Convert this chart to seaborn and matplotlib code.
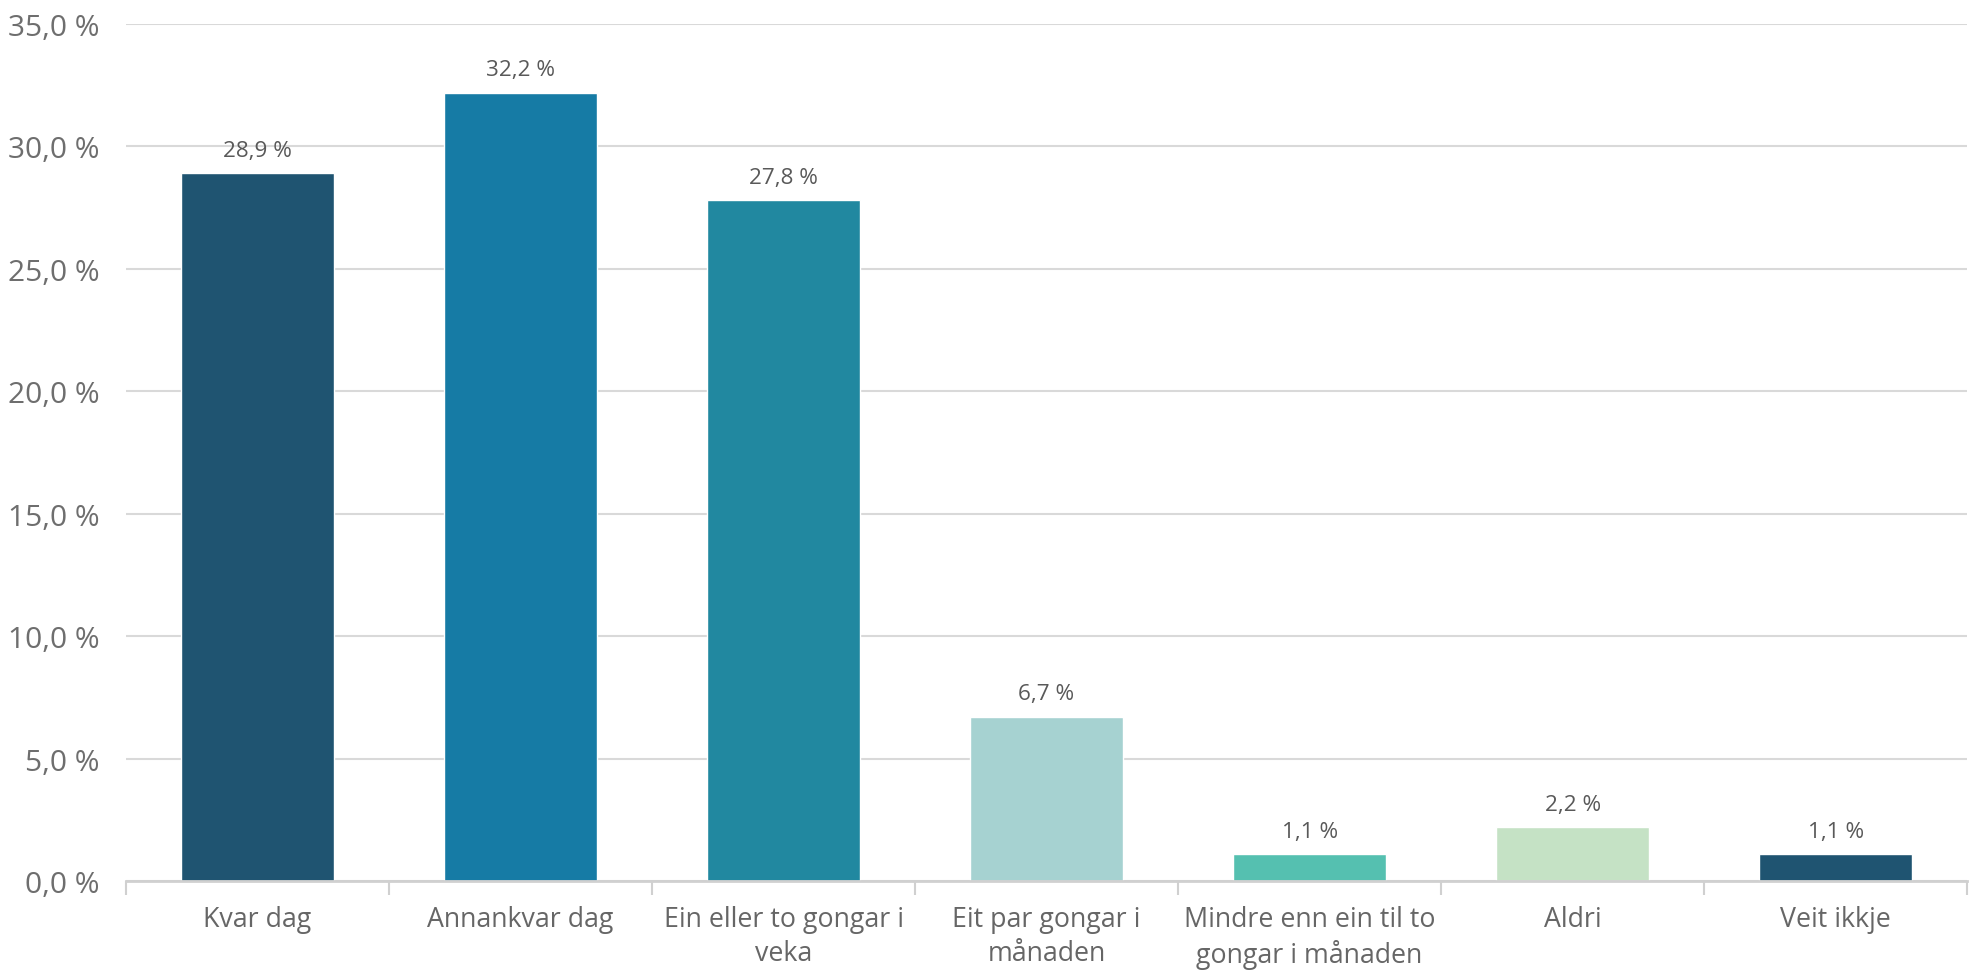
import matplotlib
matplotlib.use("Agg")
import matplotlib.pyplot as plt
import seaborn as sns
import pandas as pd
from matplotlib.ticker import FixedLocator, FuncFormatter

categories = [
    "Kvar dag",
    "Annankvar dag",
    "Ein eller to gongar i\nveka",
    "Eit par gongar i\nmånaden",
    "Mindre enn ein til to\ngongar i månaden",
    "Aldri",
    "Veit ikkje",
]
values = [28.9, 32.2, 27.8, 6.7, 1.1, 2.2, 1.1]
colors = ["#1F5471", "#167BA5", "#2188A0", "#A6D2D1", "#55C0B0", "#C5E2C5", "#1F5471"]
yticks = [0, 5, 10, 15, 20, 25, 30, 35]

sns.set_theme(style="white")
plt.rcParams["font.family"] = ["Open Sans", "DejaVu Sans"]

df = pd.DataFrame({"cat": categories, "val": values})

fig = plt.figure(figsize=(19.75, 9.78), dpi=100)
ax = fig.add_axes([0.0638, 0.0982, 0.996 - 0.0638, 0.9744 - 0.0982])

sns.barplot(data=df, x="cat", y="val", hue="cat", palette=colors, legend=False,
            width=0.58, saturation=1, ax=ax, zorder=3)

ax.set_xlim(-0.5, len(categories) - 0.5)
ax.set_ylim(0, 35)
ax.set_yticks(yticks)
ax.yaxis.set_major_formatter(FuncFormatter(lambda v, p: f"{v:.1f}".replace(".", ",") + " %"))
ax.grid(axis="y", color="#D9D9D9", linewidth=1.5, zorder=0)
ax.set_axisbelow(True)
for s in ["top", "right", "left"]:
    ax.spines[s].set_visible(False)
ax.spines["bottom"].set_color("#D0D0D0")
ax.spines["bottom"].set_linewidth(2)
ax.spines["bottom"].set_zorder(4)

ax.set_xlabel("")
ax.set_ylabel("")
ax.tick_params(axis="y", length=0, pad=19, labelsize=21.5, labelcolor="#6E6E6E")
ax.tick_params(axis="x", which="major", length=0, pad=17, labelsize=19.3, labelcolor="#666666")
ax.xaxis.set_minor_locator(FixedLocator([i - 0.5 for i in range(len(categories) + 1)]))
ax.tick_params(axis="x", which="minor", length=10, width=1.5, color="#D0D0D0", bottom=True)
for lab in ax.get_xticklabels():
    lab.set_linespacing(1.3)
    lab.set_verticalalignment("top")

for i, v in enumerate(values):
    ax.annotate(f"{v:.1f}".replace(".", ",") + " %", (i, v), xytext=(0, 9),
                textcoords="offset points", ha="center", va="bottom",
                fontsize=16.2, color="#595959")

fig.savefig("out.png", dpi=100)
